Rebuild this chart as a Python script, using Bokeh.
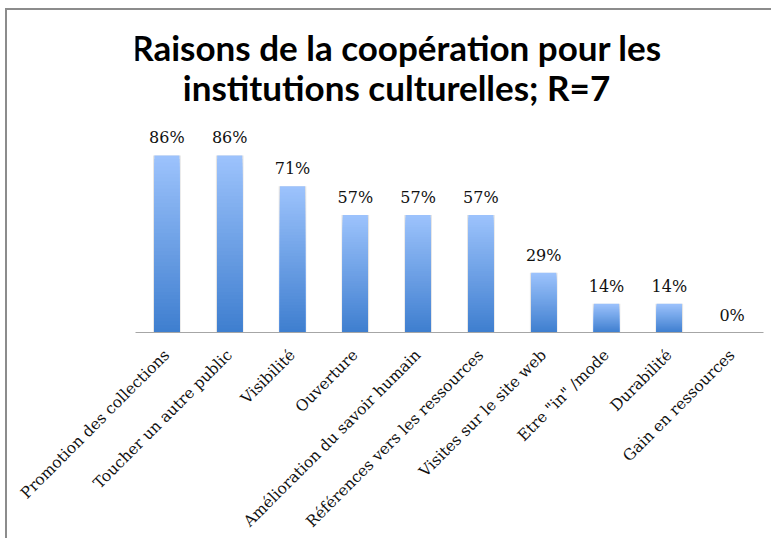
import math
from bokeh.plotting import figure
from bokeh.models import ColumnDataSource, Label, FactorRange
from bokeh.embed import file_html
from bokeh.resources import INLINE
from bokeh.core.properties import value

# ---- data ----
categories = [
    "Promotion des collections",
    "Toucher un autre public",
    "Visibilité",
    "Ouverture",
    "Amélioration du savoir humain",
    "Références vers les ressources",
    "Visites sur le site web",
    'Etre "in" /mode',
    "Durabilité",
    "Gain en ressources",
]
shares = [0.86, 0.86, 0.71, 0.57, 0.57, 0.57, 0.29, 0.14, 0.14, 0.0]
title_lines = ["Raisons de la coopération pour les", "institutions culturelles; R=7"]

# ---- styling ----
TOP_RGB = (157, 195, 252)
BOTTOM_RGB = (62, 126, 207)
N_STEPS = 48
SERIF = "DejaVu Serif"

p = figure(
    x_range=FactorRange(*categories),
    y_range=(0, 1.481),
    width=766, height=530,
    output_backend="svg", toolbar_location=None,
    y_axis_location=None,
    min_border_left=128, min_border_right=10,
    min_border_top=17, min_border_bottom=203,
)
p.margin = (10, 0, 0, 7)
p.outline_line_color = None
p.xgrid.grid_line_color = None
p.ygrid.grid_line_color = None
p.background_fill_color = "white"
p.border_fill_color = "white"
# chart border (left and top edges only are inside the window)
p.styles = {"box-shadow": "-2px -2px 0px 0px #8c8c8c"}

# soft shadow behind bars
p.vbar(x=categories, top=shares, bottom=0, width=0.44,
       fill_color="#e4e4e4", line_color=None)

# gradient bars: stacked overlapping slices, tallest first
xs, tops, cols = [], [], []
for k in range(N_STEPS, 0, -1):
    f = (k - 0.5) / N_STEPS
    rgb = tuple(int(round(b + (t - b) * f)) for b, t in zip(BOTTOM_RGB, TOP_RGB))
    col = "#%02x%02x%02x" % rgb
    for c, v in zip(categories, shares):
        xs.append(c)
        tops.append(v * k / N_STEPS)
        cols.append(col)
bars = ColumnDataSource(dict(x=xs, top=tops, color=cols))
p.vbar(x="x", top="top", bottom=0, width=0.4, source=bars,
       fill_color="color", line_color=None)

# value labels
lab = ColumnDataSource(dict(x=categories, y=shares,
                            t=["%d%%" % round(v * 100) for v in shares]))
p.text(x="x", y="y", text="t", source=lab, y_offset=-8,
       text_align="center", text_baseline="bottom",
       text_font=value(SERIF), text_font_size="16px", text_color="#111111")

# x axis
ax = p.xaxis[0]
ax.axis_line_color = "#a6a6a6"
ax.axis_line_width = 1
ax.major_tick_line_color = None
ax.minor_tick_line_color = None
ax.major_label_orientation = math.pi / 4
ax.major_label_text_font = SERIF
ax.major_label_text_font_size = "15.5px"
ax.major_label_text_color = "#111111"
ax.major_label_standoff = 14

# title (two centred lines)
for i, line in enumerate(title_lines):
    p.add_layout(Label(x=389, y=36 + 40 * i, x_units="canvas", y_units="canvas",
                       text=line, text_align="center", text_baseline="middle",
                       text_font="Lato", text_font_style="bold",
                       text_font_size="35px", text_color="#000000"))

open("out.html", "w").write(file_html(p, INLINE))
